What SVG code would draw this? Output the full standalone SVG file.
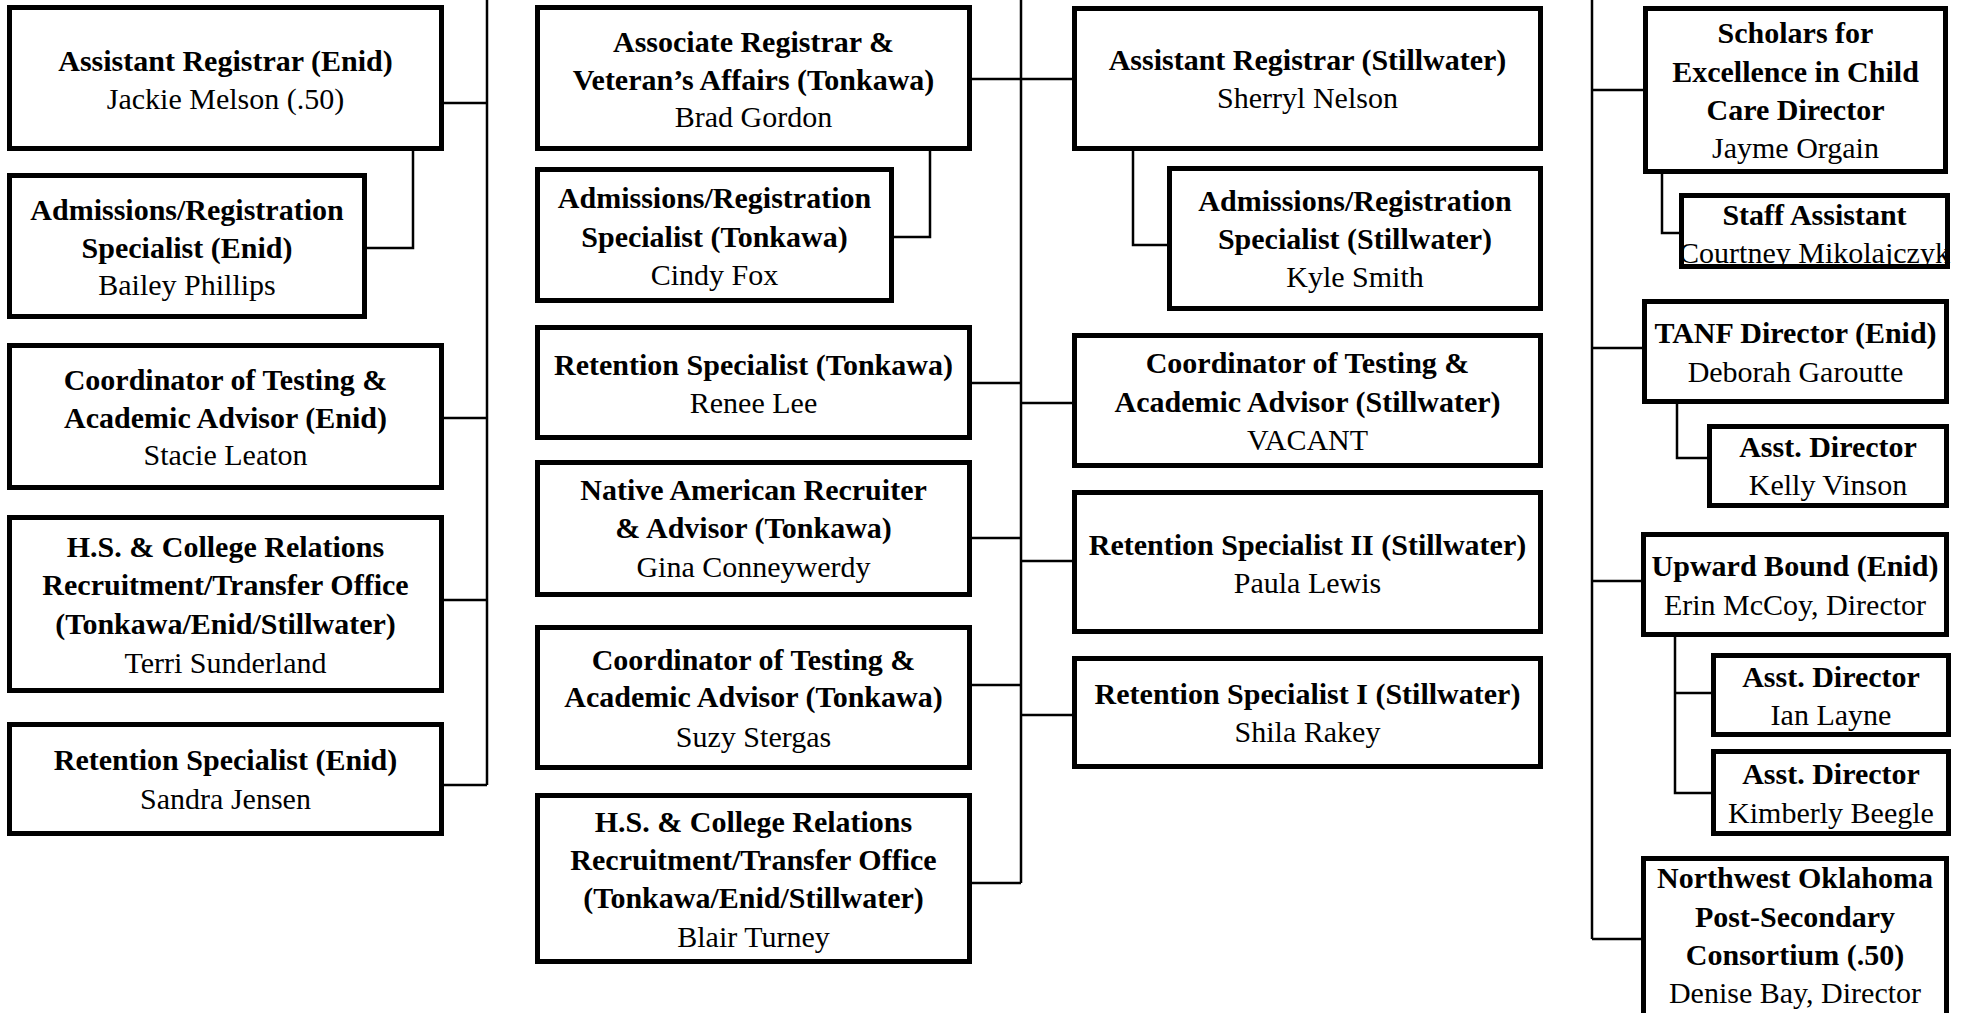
<svg xmlns="http://www.w3.org/2000/svg" width="1966" height="1013" viewBox="0 0 1966 1013">
<style>
.box{fill:#fff;stroke:#000;stroke-width:5}
.c{fill:none;stroke:#000;stroke-width:2.5}
text{font-family:"Liberation Serif","Times New Roman",serif;font-size:30px;text-anchor:middle;fill:#000}
.b{font-weight:bold}
</style>
<rect width="1966" height="1013" fill="#fff"/>
<g id="connectors">
<path class="c" d="M487 0V785M444 103H487M444 418H487M444 600H487M444 785H487M413 151V248H367"/>
<path class="c" d="M1021 0V883M972 79H1072M930 151V237H894M972 383H1021M972 538H1021M972 685H1021M972 883H1021M1021 403H1072M1021 561H1072M1021 715H1072M1133 151V245H1167"/>
<path class="c" d="M1592 0V939M1592 90H1643M1662 174V233H1679M1592 348H1642M1677 404V458H1707M1592 581H1641M1675 637V793H1711M1675 693H1711M1592 939H1641"/>
</g>
<g id="n1"><rect class="box" x="9.5" y="7.5" width="432" height="141"/><text x="225.5" y="71" class="b">Assistant Registrar (Enid)</text><text x="225.5" y="109">Jackie Melson (.50)</text></g>
<g id="n2"><rect class="box" x="9.5" y="175.5" width="355" height="141"/><text x="187" y="220" class="b">Admissions/Registration</text><text x="187" y="258" class="b">Specialist (Enid)</text><text x="187" y="295">Bailey Phillips</text></g>
<g id="n3"><rect class="box" x="9.5" y="345.5" width="432" height="142"/><text x="225.5" y="390" class="b">Coordinator of Testing &amp;</text><text x="225.5" y="428" class="b">Academic Advisor (Enid)</text><text x="225.5" y="465">Stacie Leaton</text></g>
<g id="n4"><rect class="box" x="9.5" y="517.5" width="432" height="173"/><text x="225.5" y="557" class="b">H.S. &amp; College Relations</text><text x="225.5" y="595" class="b">Recruitment/Transfer Office</text><text x="225.5" y="634" class="b">(Tonkawa/Enid/Stillwater)</text><text x="225.5" y="673">Terri Sunderland</text></g>
<g id="n5"><rect class="box" x="9.5" y="724.5" width="432" height="109"/><text x="225.5" y="770" class="b">Retention Specialist (Enid)</text><text x="225.5" y="809">Sandra Jensen</text></g>
<g id="m1"><rect class="box" x="537.5" y="7.5" width="432" height="141"/><text x="753.5" y="52" class="b">Associate Registrar &amp;</text><text x="753.5" y="89.5" class="b">Veteran’s Affairs (Tonkawa)</text><text x="753.5" y="127">Brad Gordon</text></g>
<g id="m2"><rect class="box" x="537.5" y="169.5" width="354" height="131"/><text x="714.5" y="208" class="b">Admissions/Registration</text><text x="714.5" y="247" class="b">Specialist (Tonkawa)</text><text x="714.5" y="285">Cindy Fox</text></g>
<g id="m3"><rect class="box" x="537.5" y="327.5" width="432" height="110"/><text x="753.5" y="375" class="b">Retention Specialist (Tonkawa)</text><text x="753.5" y="413">Renee Lee</text></g>
<g id="m4"><rect class="box" x="537.5" y="462.5" width="432" height="132"/><text x="753.5" y="500" class="b">Native American Recruiter</text><text x="753.5" y="538" class="b">&amp; Advisor (Tonkawa)</text><text x="753.5" y="577">Gina Conneywerdy</text></g>
<g id="m5"><rect class="box" x="537.5" y="627.5" width="432" height="140"/><text x="753.5" y="670" class="b">Coordinator of Testing &amp;</text><text x="753.5" y="707" class="b">Academic Advisor (Tonkawa)</text><text x="753.5" y="747">Suzy Stergas</text></g>
<g id="m6"><rect class="box" x="537.5" y="795.5" width="432" height="166"/><text x="753.5" y="832" class="b">H.S. &amp; College Relations</text><text x="753.5" y="870" class="b">Recruitment/Transfer Office</text><text x="753.5" y="908" class="b">(Tonkawa/Enid/Stillwater)</text><text x="753.5" y="947">Blair Turney</text></g>
<g id="s1"><rect class="box" x="1074.5" y="8.5" width="466" height="140"/><text x="1307.5" y="70" class="b">Assistant Registrar (Stillwater)</text><text x="1307.5" y="108">Sherryl Nelson</text></g>
<g id="s2"><rect class="box" x="1169.5" y="168.5" width="371" height="140"/><text x="1355" y="211" class="b">Admissions/Registration</text><text x="1355" y="249" class="b">Specialist (Stillwater)</text><text x="1355" y="287">Kyle Smith</text></g>
<g id="s3"><rect class="box" x="1074.5" y="335.5" width="466" height="130"/><text x="1307.5" y="373" class="b">Coordinator of Testing &amp;</text><text x="1307.5" y="412" class="b">Academic Advisor (Stillwater)</text><text x="1307.5" y="450">VACANT</text></g>
<g id="s4"><rect class="box" x="1074.5" y="492.5" width="466" height="139"/><text x="1307.5" y="555" class="b">Retention Specialist II (Stillwater)</text><text x="1307.5" y="593">Paula Lewis</text></g>
<g id="s5"><rect class="box" x="1074.5" y="658.5" width="466" height="108"/><text x="1307.5" y="704" class="b">Retention Specialist I (Stillwater)</text><text x="1307.5" y="742">Shila Rakey</text></g>
<g id="r1"><rect class="box" x="1645.5" y="8.5" width="300" height="163"/><text x="1795.5" y="43" class="b">Scholars for</text><text x="1795.5" y="82" class="b">Excellence in Child</text><text x="1795.5" y="120" class="b">Care Director</text><text x="1795.5" y="158">Jayme Orgain</text></g>
<g id="r2"><rect class="box" x="1681.5" y="195.5" width="266" height="71"/><text x="1814.5" y="225" class="b">Staff Assistant</text><text x="1814.5" y="263">Courtney Mikolajczyk</text></g>
<g id="r3"><rect class="box" x="1644.5" y="301.5" width="302" height="100"/><text x="1795.5" y="343" class="b">TANF Director (Enid)</text><text x="1795.5" y="382">Deborah Garoutte</text></g>
<g id="r4"><rect class="box" x="1709.5" y="426.5" width="237" height="79"/><text x="1828" y="457" class="b">Asst. Director</text><text x="1828" y="495">Kelly Vinson</text></g>
<g id="r5"><rect class="box" x="1643.5" y="534.5" width="303" height="100"/><text x="1795" y="576" class="b">Upward Bound (Enid)</text><text x="1795" y="615">Erin McCoy, Director</text></g>
<g id="r6"><rect class="box" x="1713.5" y="655.5" width="235" height="79"/><text x="1831" y="687" class="b">Asst. Director</text><text x="1831" y="725">Ian Layne</text></g>
<g id="r7"><rect class="box" x="1713.5" y="751.5" width="235" height="82"/><text x="1831" y="784" class="b">Asst. Director</text><text x="1831" y="823">Kimberly Beegle</text></g>
<g id="r8"><rect class="box" x="1643.5" y="858.5" width="303" height="170"/><text x="1795" y="888" class="b">Northwest Oklahoma</text><text x="1795" y="927" class="b">Post-Secondary</text><text x="1795" y="965" class="b">Consortium (.50)</text><text x="1795" y="1003">Denise Bay, Director</text></g>
</svg>
